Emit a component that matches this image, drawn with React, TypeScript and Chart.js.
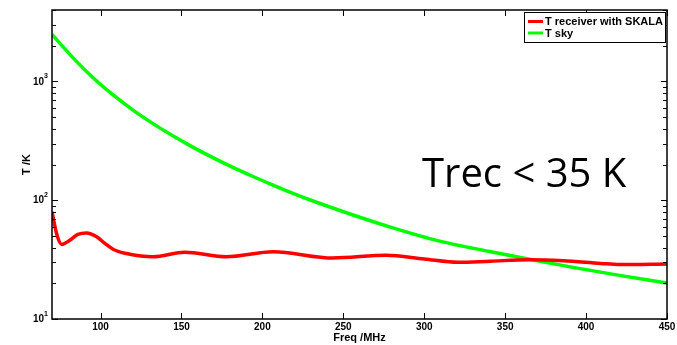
import React, { useEffect, useRef } from "react";
import { Chart, registerables } from "chart.js";

Chart.register(...registerables);

// Receiver noise temperature measured with the SKALA antenna (K vs MHz)
const rxFreq = [70, 72.9, 76, 81, 86, 91.4, 97.6, 102.7, 108, 116, 132.5, 152, 177.8, 206.6, 243.6, 276.6, 300, 321, 341, 365, 386, 409, 421, 450];
const rxTemp = [80, 52, 42.5, 46, 51.5, 53, 49.2, 43.3, 38.5, 35.6, 33.4, 36.5, 33.4, 36.8, 32.6, 34.5, 32, 30, 30.7, 31.5, 30.9, 29.4, 28.8, 29.1];

// Sky brightness temperature (K vs MHz)
const skyFreq = [70, 82.3, 94.7, 107, 119.4, 131.7, 144.1, 156.4, 168.8, 181.1, 193.5, 205.8, 218.1, 230.5, 247.8, 278.6, 309.5, 340.4, 365, 391.9, 420.6, 450];
const skyTemp = [2490, 1620, 1096, 785, 583, 448, 352, 283, 231, 191, 160, 135.5, 115.6, 99.5, 82, 59.7, 45.3, 37, 31.8, 27.2, 23.3, 20.1];

const seriesLabels = ["T receiver with SKALA", "T sky"];
const seriesColors = ["#ff0000", "#00ff00"];

const xTicks = [100, 150, 200, 250, 300, 350, 400, 450];
const yDecades = [10, 100, 1000];
const yExponents = ["1", "2", "3"];

const xTitle = "Freq /MHz";
const yTitle = "T /K";
const note = "Trec < 35 K";

const FONT = "'Liberation Sans', Arial, sans-serif";

const pairs = (xs: number[], ys: number[]) => xs.map((x, i) => ({ x, y: ys[i] }));

const axesPlugin = {
  id: "matlabAxes",
  afterDatasetsDraw(chart: any) {
    const { ctx, chartArea: a, scales } = chart;
    const xs = scales.x;
    const ys = scales.y;
    ctx.save();

    const seg = (x1: number, y1: number, x2: number, y2: number) => {
      ctx.beginPath();
      ctx.moveTo(x1, y1);
      ctx.lineTo(x2, y2);
      ctx.stroke();
    };

    ctx.strokeStyle = "#000";
    ctx.lineWidth = 1;

    // x ticks, pointing inward on bottom and top
    for (const v of xTicks) {
      const px = Math.round(xs.getPixelForValue(v)) + 0.5;
      seg(px, a.bottom, px, a.bottom - 6);
      seg(px, a.top, px, a.top + 6);
    }

    // y major + minor log ticks on both sides
    const yMax = ys.max;
    for (const d of yDecades) {
      for (let m = 1; m <= 9; m++) {
        const v = d * m;
        if (v > yMax) continue;
        const py = Math.round(ys.getPixelForValue(v)) + 0.5;
        const len = m === 1 ? 6 : 4;
        seg(a.left, py, a.left + len, py);
        seg(a.right, py, a.right - len, py);
      }
    }

    // frame
    ctx.lineWidth = 1.5;
    ctx.strokeRect(a.left, a.top, a.right - a.left, a.bottom - a.top);

    ctx.fillStyle = "#000";

    // x tick labels
    ctx.font = `bold 10px ${FONT}`;
    ctx.textAlign = "center";
    ctx.textBaseline = "middle";
    for (const v of xTicks) {
      ctx.fillText(String(v), xs.getPixelForValue(v), a.bottom + 8.5);
    }

    // y tick labels with exponent
    yDecades.forEach((d, i) => {
      const py = ys.getPixelForValue(d);
      ctx.font = `bold 7px ${FONT}`;
      ctx.textAlign = "right";
      ctx.textBaseline = "middle";
      const expW = ctx.measureText(yExponents[i]).width;
      const right = a.left - 4;
      ctx.fillText(yExponents[i], right, py - 5);
      ctx.font = `bold 10px ${FONT}`;
      ctx.fillText("10", right - expW, py + 0.5);
    });

    // axis titles
    ctx.font = `bold 11px ${FONT}`;
    ctx.textAlign = "center";
    ctx.textBaseline = "middle";
    ctx.fillText(xTitle, (a.left + a.right) / 2, a.bottom + 19);
    ctx.save();
    ctx.translate(27, (a.top + a.bottom) / 2);
    ctx.rotate(-Math.PI / 2);
    ctx.fillText(yTitle, 0, 0);
    ctx.restore();

    // legend box in the top-right corner
    const lx = a.right - 143;
    const ly = a.top + 2;
    const lw = 141;
    const lh = 30;
    ctx.fillStyle = "#fff";
    ctx.fillRect(lx, ly, lw, lh);
    ctx.strokeStyle = "#000";
    ctx.lineWidth = 1;
    ctx.strokeRect(Math.round(lx) + 0.5, Math.round(ly) + 0.5, lw, lh);
    ctx.font = `bold 11px ${FONT}`;
    ctx.textAlign = "left";
    ctx.textBaseline = "middle";
    seriesLabels.forEach((lab, i) => {
      const yy = ly + 9.5 + i * 11.5;
      ctx.strokeStyle = seriesColors[i];
      ctx.lineWidth = 3;
      seg(lx + 4, yy, lx + 19, yy);
      ctx.fillStyle = "#000";
      ctx.fillText(lab, lx + 21, yy + 0.5);
    });

    // annotation
    ctx.font = `40px 'Open Sans', 'Noto Sans', sans-serif`;
    ctx.textAlign = "left";
    ctx.textBaseline = "alphabetic";
    ctx.fillStyle = "#000";
    ctx.fillText(note, 422, 187);

    ctx.restore();
  },
};

export default function App() {
  const ref = useRef<HTMLCanvasElement | null>(null);

  useEffect(() => {
    if (!ref.current) return;
    const chart = new Chart(ref.current, {
      type: "line",
      data: {
        datasets: [
          {
            label: seriesLabels[0],
            data: pairs(rxFreq, rxTemp),
            borderColor: seriesColors[0],
            borderWidth: 3.5,
            pointRadius: 0,
            cubicInterpolationMode: "monotone",
            fill: false,
          },
          {
            label: seriesLabels[1],
            data: pairs(skyFreq, skyTemp),
            borderColor: seriesColors[1],
            borderWidth: 3.5,
            pointRadius: 0,
            cubicInterpolationMode: "monotone",
            fill: false,
          },
        ],
      },
      options: {
        responsive: false,
        animation: false,
        layout: { padding: { left: 52, right: 10, top: 10, bottom: 26 } },
        plugins: { legend: { display: false }, tooltip: { enabled: false } },
        scales: {
          x: { type: "linear", min: 70, max: 450, display: false },
          y: { type: "logarithmic", min: 10, max: 4000, display: false },
        },
      },
      plugins: [axesPlugin],
    });
    return () => chart.destroy();
  }, []);

  return (
    <div style={{ position: "absolute", left: 0, top: 0, width: 677, height: 345, background: "#fff" }}>
      <canvas ref={ref} width={677} height={345} style={{ display: "block" }} />
    </div>
  );
}
